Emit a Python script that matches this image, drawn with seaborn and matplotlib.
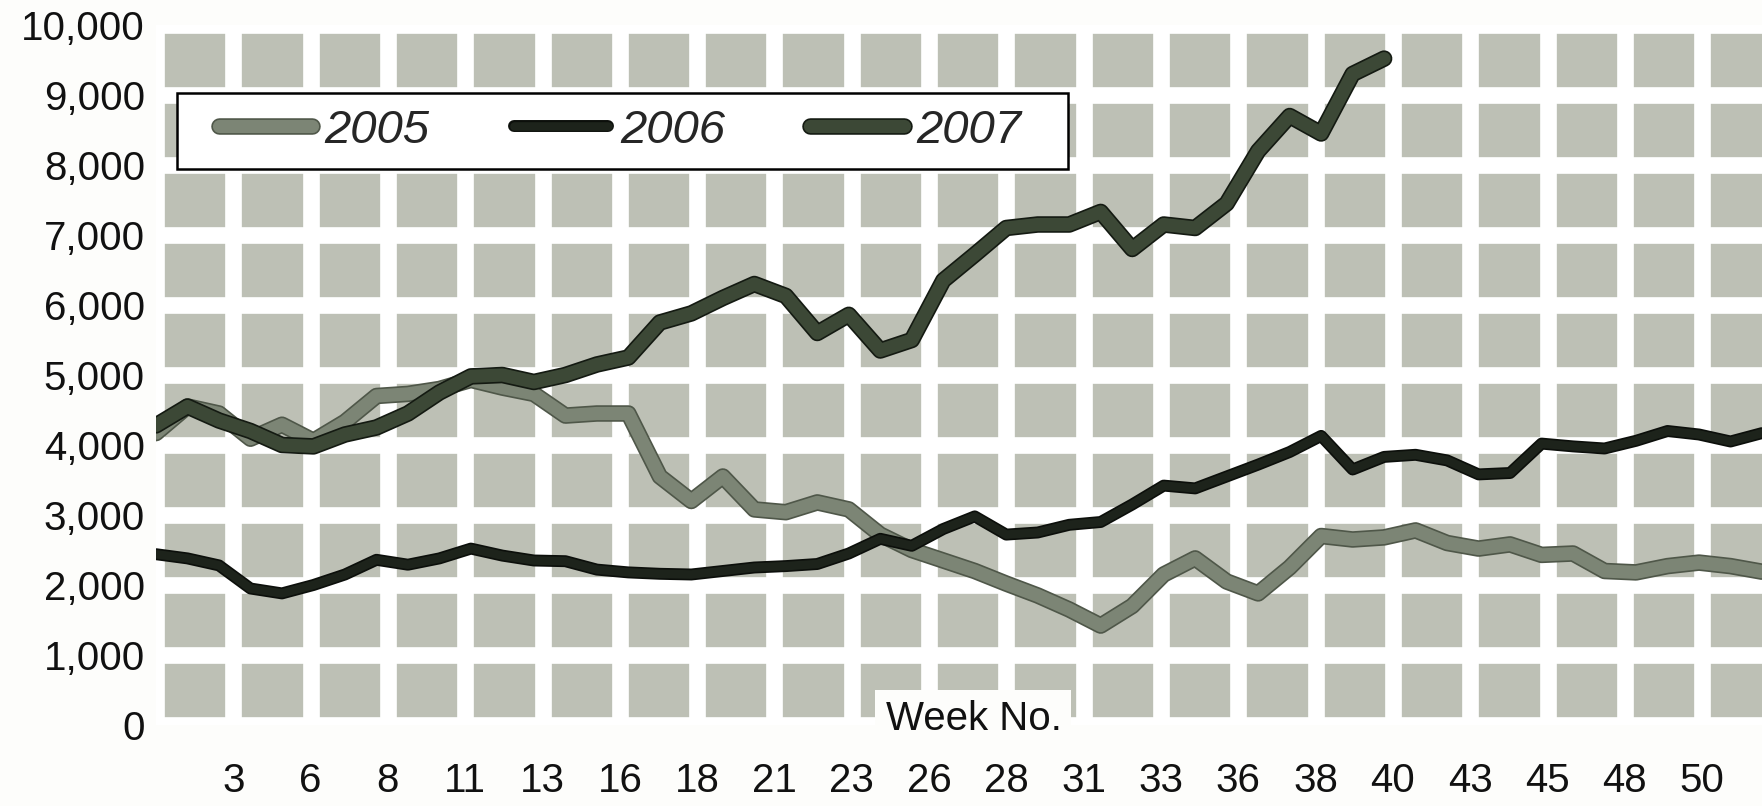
import matplotlib
matplotlib.use("Agg")
import matplotlib.pyplot as plt
import matplotlib.patheffects as pe
from matplotlib.patches import Rectangle
from matplotlib.ticker import FuncFormatter
import pandas as pd
import seaborn as sns

# --- DATA ---
weeks = list(range(1, 53))

sales_2005 = [4170, 4550, 4450, 4090, 4290, 4060, 4330, 4700, 4730, 4800,
              4930, 4820, 4730, 4420, 4450, 4450, 3550, 3200, 3550, 3080,
              3040, 3180, 3080, 2720, 2500, 2350, 2200, 2020, 1850, 1650,
              1420, 1700, 2150, 2380, 2050, 1880, 2250, 2700, 2650, 2680,
              2780, 2600, 2520, 2580, 2430, 2450, 2200, 2180, 2270, 2320,
              2270, 2190]

sales_2006 = [2440, 2380, 2280, 1950, 1880, 2000, 2150, 2360, 2290, 2380,
              2520, 2420, 2350, 2340, 2220, 2180, 2160, 2150, 2200, 2250,
              2270, 2300, 2450, 2660, 2560, 2800, 2980, 2720, 2750, 2860,
              2900, 3150, 3420, 3380, 3550, 3720, 3900, 4130, 3650, 3830,
              3860, 3780, 3580, 3600, 4020, 3980, 3950, 4060, 4200, 4150,
              4050, 4170]

sales_2007 = [4280, 4550, 4350, 4200, 4000, 3980, 4150, 4250, 4450, 4750,
              4980, 5000, 4900, 5000, 5150, 5250, 5750, 5880, 6100, 6300,
              6130, 5600, 5860, 5350, 5500, 6350, 6720, 7100, 7150, 7150,
              7330, 6800, 7150, 7100, 7450, 8200, 8700, 8450, 9300, 9520]

years = ["2005", "2006", "2007"]
week_labels = ["3", "6", "8", "11", "13", "16", "18", "21", "23", "26",
               "28", "31", "33", "36", "38", "40", "43", "45", "48", "50"]
y_ticks = list(range(0, 10001, 1000))

# --- STYLE ---
sns.set_style("white")
plt.rcParams["font.family"] = ["Liberation Sans", "DejaVu Sans"]

bg = "#fdfdfb"
tile_color = "#bdc0b5"
styles = {
    "2005": {"color": "#7c8575", "edge": "#4f5749", "lw": 9.5},
    "2006": {"color": "#1d231b", "edge": "#0c0f0b", "lw": 6.2},
    "2007": {"color": "#3c4836", "edge": "#141a12", "lw": 9.5},
}

fig = plt.figure(figsize=(17.62, 8.06), dpi=100, facecolor=bg)
ax = fig.add_axes([156 / 1762, 81 / 806, 1 - 156 / 1762, 700 / 806])
ax.set_facecolor(tile_color)

series = {"2005": sales_2005, "2006": sales_2006, "2007": sales_2007}
for yr in years:
    vals = series[yr]
    d = pd.DataFrame({"week": weeks[:len(vals)], "value": vals})
    st = styles[yr]
    sns.lineplot(data=d, x="week", y="value", ax=ax, color=st["color"],
                 linewidth=st["lw"], label=yr, legend=False,
                 solid_capstyle="round", solid_joinstyle="round", zorder=3,
                 path_effects=[pe.Stroke(linewidth=st["lw"] + 2.4, foreground=st["edge"]),
                               pe.Normal()])

# axis ranges + white grid that cuts the background into tiles
step = 2.455
ax.set_xlim(1, 52)
ax.set_ylim(0, 10000)
xt = [1 + k * step for k in range(len(week_labels) + 1)]
ax.set_xticks(xt)
ax.set_xticklabels([""] + week_labels)
ax.set_yticks(y_ticks)
ax.yaxis.set_major_formatter(FuncFormatter(lambda v, p: f"{v:,.0f}"))
ax.grid(True, color="white", linewidth=12)
ax.set_axisbelow(True)
for s in ax.spines.values():
    s.set_visible(False)
ax.tick_params(axis="both", length=0, labelsize=29, colors="#111111")
ax.tick_params(axis="y", pad=8)
ax.tick_params(axis="x", pad=27)
ax.set_xlabel("")
ax.set_ylabel("")

ax.text(0.509, 0.008, "Week No.", transform=ax.transAxes, ha="center", va="center",
        fontsize=29, color="#111111", zorder=5,
        bbox=dict(boxstyle="square,pad=0.25", fc=bg, ec="none"))

# legend: frame drawn as its own box, entries placed inside
ax.add_patch(Rectangle((0.0131, 0.794), 0.555, 0.109, transform=ax.transAxes,
                       fc="white", ec="black", lw=1.8, zorder=6, clip_on=False))
leg = ax.legend(loc="center left", bbox_to_anchor=(0.039, 0.849), ncol=3,
                frameon=False, borderaxespad=0, borderpad=0, handlelength=1.98,
                handletextpad=0.26, columnspacing=1.8,
                prop={"style": "italic", "size": 34})
leg.set_zorder(7)

plt.savefig("out.png", dpi=100, facecolor=fig.get_facecolor())
plt.close()
